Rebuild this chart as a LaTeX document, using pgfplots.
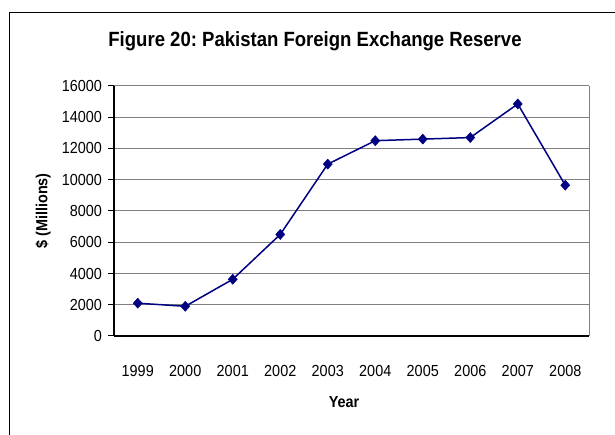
\documentclass[border=0pt]{standalone}
\usepackage{pgfplots}
\pgfplotsset{compat=1.18}
\usepackage{fontspec}
\setmainfont[FakeStretch=0.9]{Liberation Sans}
\definecolor{navy}{RGB}{0,0,128}
\definecolor{gridgray}{RGB}{128,128,128}
\begin{document}
\frenchspacing
\begin{tikzpicture}[x=1pt,y=1pt]
\useasboundingbox (0,0) rectangle (615,435);
\draw[line width=1.5pt,black] (9.5,0) -- (9.5,422.5) -- (615,422.5);
\node[font=\fontsize{20.6}{24}\selectfont\bfseries] at (315,394) {Figure 20: Pakistan Foreign Exchange Reserve};
\begin{axis}[
  at={(114pt,99pt)}, anchor=south west,
  scale only axis, width=475pt, height=250pt,
  xmin=-0.5, xmax=9.5, ymin=0, ymax=16000,
  xtick={0,1,2,3,4,5,6,7,8,9},
  xticklabels={1999,2000,2001,2002,2003,2004,2005,2006,2007,2008},
  ytick={0,2000,4000,6000,8000,10000,12000,14000,16000},
  scaled y ticks=false,
  /pgf/number format/1000 sep={},
  /pgf/number format/assume math mode=true,
  axis x line*=bottom, axis y line*=left,
  axis line style={line width=1.5pt, black, -},
  xtick style={draw=none},
  ytick style={black, line width=1pt},
  tick align=outside,
  major tick length=6pt,
  ymajorgrids,
  grid style={gridgray, line width=1pt},
  ticklabel style={font=\fontsize{16}{19}\selectfont},
  xticklabel style={anchor=center, yshift=-29pt},
  yticklabel style={anchor=east, inner sep=0pt, xshift=-6pt},
  clip=false,
]
\draw[gridgray, line width=1pt] (rel axis cs:1,0) -- (rel axis cs:1,1);
\addplot[navy, line width=1.5pt, mark=diamond*, mark size=5pt, mark options={fill=navy, draw=navy, line width=0.5pt, xscale=1.2}]
  coordinates {(0,2100) (1,1900) (2,3630) (3,6500) (4,11000) (5,12500) (6,12600) (7,12700) (8,14850) (9,9650)};
\end{axis}
\node[font=\fontsize{16}{19}\selectfont\bfseries] at (344,33.3) {Year};
\node[font=\fontsize{16}{19}\selectfont\bfseries, rotate=90] at (43,224) {\$ (Millions)};
\end{tikzpicture}
\end{document}
